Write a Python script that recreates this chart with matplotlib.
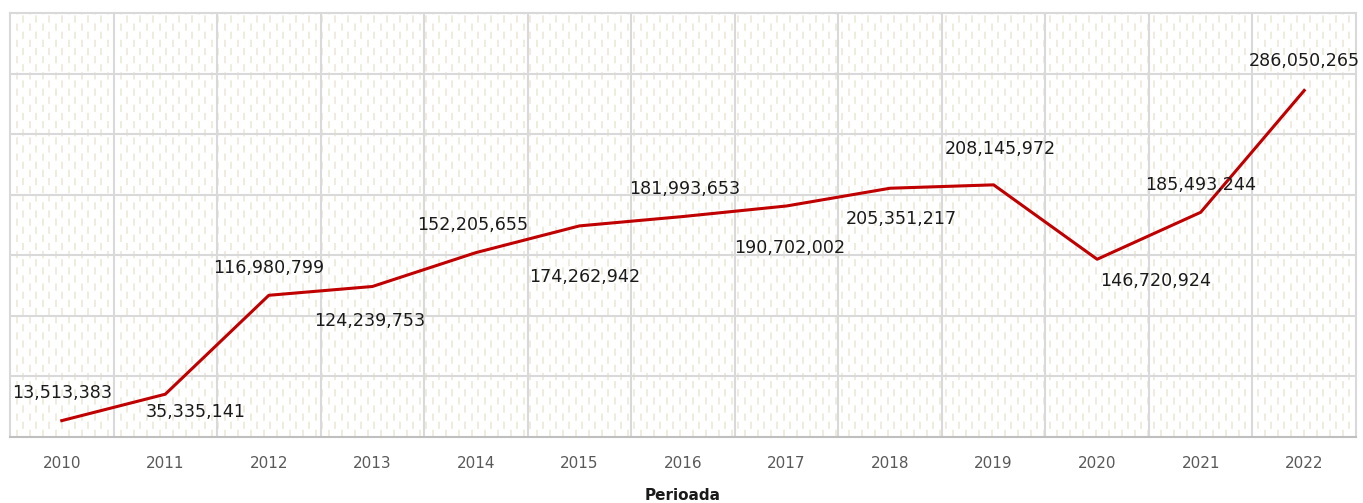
import numpy as np
import matplotlib.pyplot as plt

# Datos
years = ['2010', '2011', '2012', '2013', '2014', '2015', '2016',
         '2017', '2018', '2019', '2020', '2021', '2022']
values = [13513383, 35335141, 116980799, 124239753, 152205655, 174262942,
          181993653, 190702002, 205351217, 208145972, 146720924, 185493244,
          286050265]

# posicion de las etiquetas (offset en puntos)
label_dx = [0, 22, 0, -2, -2, 4, 1, 2, 8, 5, 42, 0, 0]
label_dy = [20, -13, 20, -25, 20, -37, 20, -30, -22, 26, -16, 20, 21]

fig = plt.figure(figsize=(13.63, 5.03), dpi=100)
ax = fig.add_axes([10 / 1363, 1 - 437 / 503, 1346 / 1363, 424 / 503])

x = np.arange(len(years))
ax.set_xlim(-0.5, len(years) - 0.5)
ax.set_ylim(0, 350e6)

# fondo punteado
cols = np.linspace(-0.5, len(years) - 0.5, 208)[1:-1]
ax.vlines(cols[::2], 0, 350e6, colors='#eeeadc', linewidth=1.3,
          linestyles=(0, (4, 5)), zorder=0)
ax.vlines(cols[1::2], 0, 350e6, colors='#eeeadc', linewidth=1.3,
          linestyles=(4.5, (4, 5)), zorder=0)

# cuadricula
for yv in np.arange(50e6, 350e6, 50e6):
    ax.axhline(yv, color='#d9d9d9', linewidth=1.5, zorder=1)
for xv in np.arange(0.5, len(years) - 0.5, 1):
    ax.axvline(xv, color='#d9d9d9', linewidth=1.5, zorder=1)

for s in ['top', 'right', 'left']:
    ax.spines[s].set_color('#d9d9d9')
    ax.spines[s].set_linewidth(1.5)
ax.spines['bottom'].set_color('#bfbfbf')
ax.spines['bottom'].set_linewidth(1.5)

ax.plot(x, values, color='#c00000', linewidth=2.2, zorder=3)

for i, v in enumerate(values):
    ax.annotate(f'{v:,}', (x[i], v), xytext=(label_dx[i], label_dy[i]),
                textcoords='offset points', ha='center', va='center',
                fontsize=12.6, color='#1a1a1a', zorder=4)

ax.set_xticks(x)
ax.set_xticklabels(years, fontsize=11, color='#595959')
ax.tick_params(axis='x', length=0, pad=14)
ax.set_yticks([])
ax.set_xlabel('Perioada', fontsize=11, fontweight='bold', color='#1a1a1a',
              labelpad=12)

fig.savefig('out.png', dpi=100)
